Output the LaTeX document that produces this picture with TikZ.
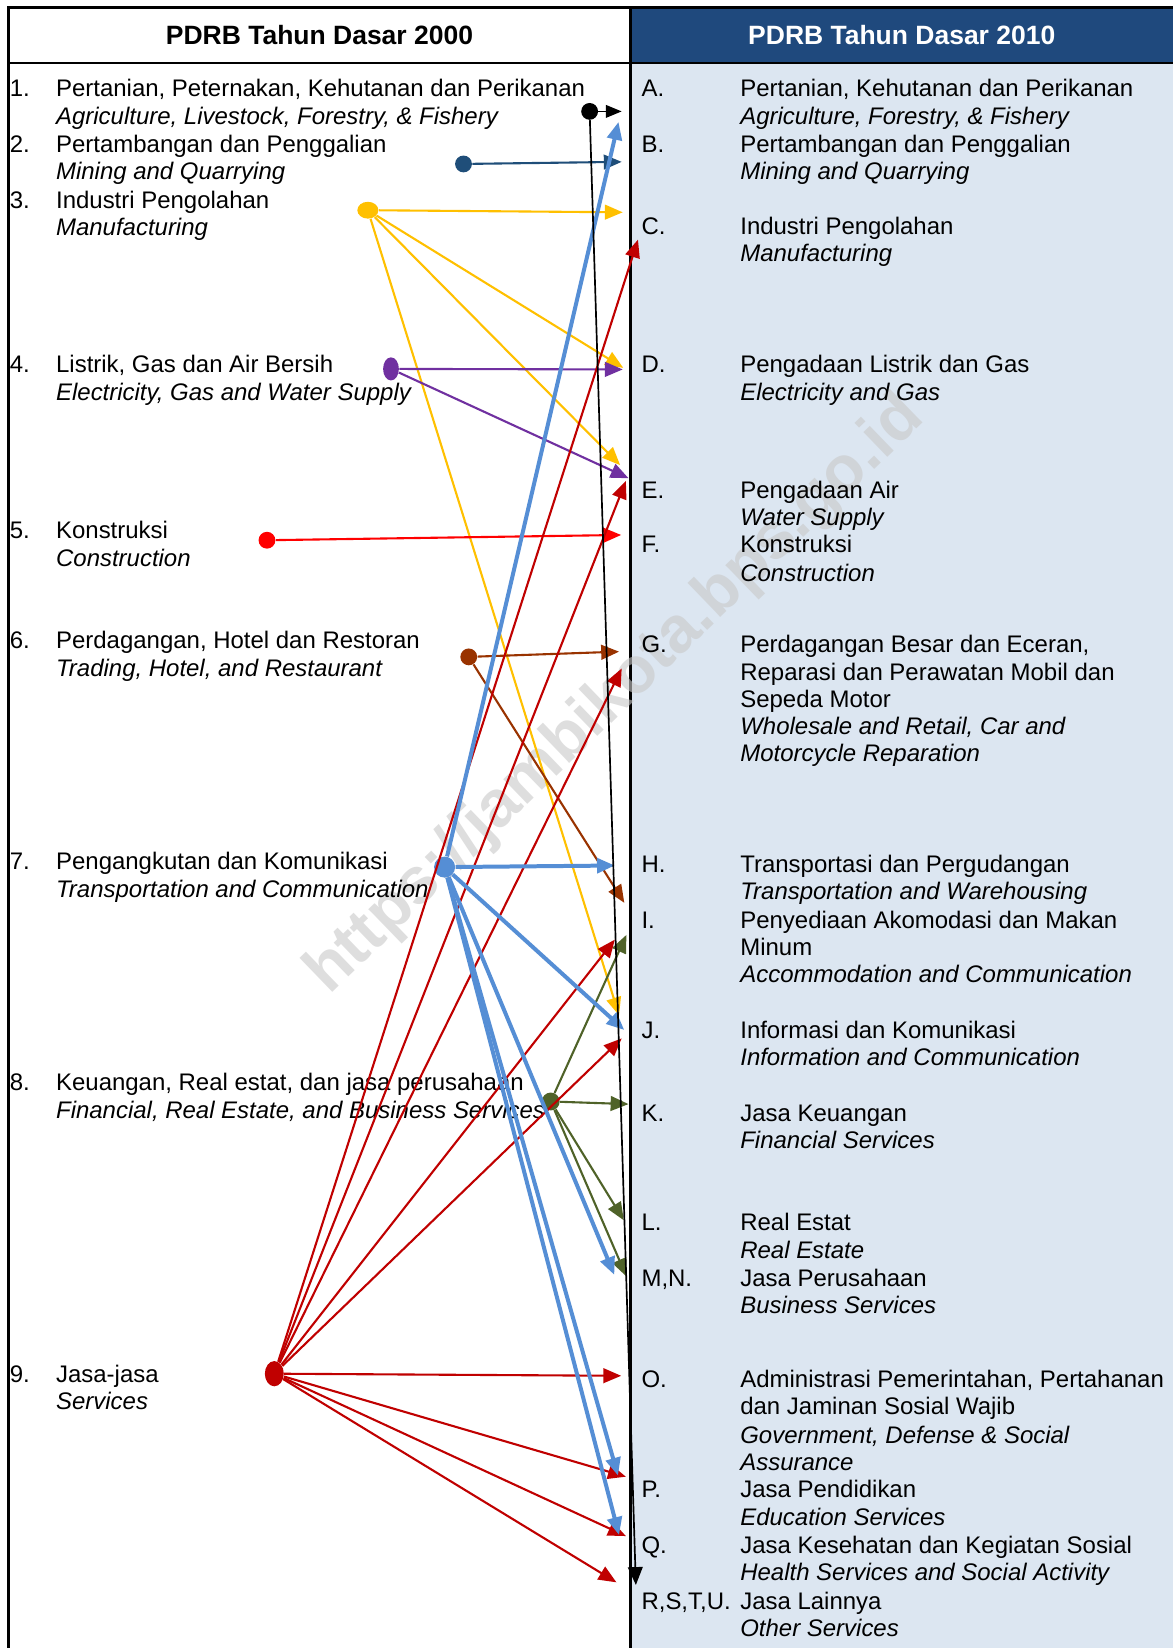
\documentclass[tikz,border=0pt]{standalone}
\usepackage{fontspec}
\setmainfont{Liberation Sans}
\usetikzlibrary{arrows.meta,shapes.geometric}
\definecolor{hdrblue}{RGB}{31,73,125}
\definecolor{bodyblue}{RGB}{220,230,241}
\definecolor{cdblue}{RGB}{31,78,121}
\definecolor{cyellow}{RGB}{255,192,0}
\definecolor{cpurple}{RGB}{112,48,160}
\definecolor{cred}{RGB}{255,0,0}
\definecolor{cbrown}{RGB}{153,51,0}
\definecolor{clblue}{RGB}{85,142,213}
\definecolor{colive}{RGB}{79,98,40}
\definecolor{cdred}{RGB}{192,0,0}
\definecolor{wmgray}{RGB}{200,200,200}
\begin{document}
\begin{tikzpicture}[x=0.5pt,y=-0.5pt,
  txt/.style={anchor=base west,inner sep=0pt,font=\fontsize{11.4}{13.15}\selectfont},
  itx/.style={anchor=base west,inner sep=0pt,font=\fontsize{11.4}{13.15}\selectfont\itshape},
  hdr/.style={inner sep=0pt,font=\fontsize{12.6}{15}\selectfont\bfseries},
  dot/.style={ellipse,fill=#1,draw=none,inner sep=0pt},
  con/.style={draw=#1,line width=1pt,-{Triangle[length=8.5pt,width=7pt]}},
  bcon/.style={draw=#1,line width=1.9pt,-{Triangle[length=8.5pt,width=7pt]}},
  frame/.style={line width=1.2pt,draw=black}
]
\useasboundingbox (0,0) rectangle (1116,1568);
\fill[white] (0,0) rectangle (1116,1568);
\fill[bodyblue] (600,60) rectangle (1116,1568);
\fill[hdrblue] (600,7) rectangle (1116,60);
\draw[frame] (8,1568) -- (8,7) -- (1116,7);
\draw[frame] (8,60) -- (1116,60);
\draw[frame] (600,7) -- (600,1568);

% watermark
\node[rotate=44,text=wmgray,opacity=0.6,inner sep=0pt,font=\fontsize{31}{31}\selectfont\bfseries] (wm) at (586,662) {https://jambikota.bps.go.id};

% headers
\node[hdr] (h1) at (304,33) {PDRB Tahun Dasar 2000};
\node[hdr,text=white] (h2) at (858,33) {PDRB Tahun Dasar 2010};

% left column
\node[txt] (n1) at (9,92) {1.};
\node[txt] (l1a) at (53,92) {Pertanian, Peternakan, Kehutanan dan Perikanan};
\node[itx] (l1b) at (53,118) {Agriculture, Livestock, Forestry, \& Fishery};
\node[txt] (n2) at (9,145) {2.};
\node[txt] (l2a) at (53,145) {Pertambangan dan Penggalian};
\node[itx] (l2b) at (53,171) {Mining and Quarrying};
\node[txt] (n3) at (9,198) {3.};
\node[txt] (l3a) at (53,198) {Industri Pengolahan};
\node[itx] (l3b) at (53,224) {Manufacturing};
\node[txt] (n4) at (9,354) {4.};
\node[txt] (l4a) at (53,354) {Listrik, Gas dan Air Bersih};
\node[itx] (l4b) at (53,381) {Electricity, Gas and Water Supply};
\node[txt] (n5) at (9,512) {5.};
\node[txt] (l5a) at (53,512) {Konstruksi};
\node[itx] (l5b) at (53,539) {Construction};
\node[txt] (n6) at (9,617) {6.};
\node[txt] (l6a) at (53,617) {Perdagangan, Hotel dan Restoran};
\node[itx] (l6b) at (53,644) {Trading, Hotel, and Restaurant};
\node[txt] (n7) at (9,827) {7.};
\node[txt] (l7a) at (53,827) {Pengangkutan dan Komunikasi};
\node[itx] (l7b) at (53,854) {Transportation and Communication};
\node[txt] (n8) at (9,1038) {8.};
\node[txt] (l8a) at (53,1038) {Keuangan, Real estat, dan jasa perusahaan};
\node[itx] (l8b) at (53,1064) {Financial, Real Estate, and Business Services};
\node[txt] (n9) at (9,1315) {9.};
\node[txt] (l9a) at (53,1315) {Jasa-jasa};
\node[itx] (l9b) at (53,1341) {Services};

% right column
\node[txt] (rA) at (610,92) {A.};
\node[txt] (rAa) at (704,92) {Pertanian, Kehutanan dan Perikanan};
\node[itx] (rAb) at (704,118) {Agriculture, Forestry, \& Fishery};
\node[txt] (rB) at (610,145) {B.};
\node[txt] (rBa) at (704,145) {Pertambangan dan Penggalian};
\node[itx] (rBb) at (704,171) {Mining and Quarrying};
\node[txt] (rC) at (610,223) {C.};
\node[txt] (rCa) at (704,223) {Industri Pengolahan};
\node[itx] (rCb) at (704,249) {Manufacturing};
\node[txt] (rD) at (610,354) {D.};
\node[txt] (rDa) at (704,354) {Pengadaan Listrik dan Gas};
\node[itx] (rDb) at (704,381) {Electricity and Gas};
\node[txt] (rE) at (610,474) {E.};
\node[txt] (rEa) at (704,474) {Pengadaan Air};
\node[itx] (rEb) at (704,500) {Water Supply};
\node[txt] (rF) at (610,526) {F.};
\node[txt] (rFa) at (704,526) {Konstruksi};
\node[itx] (rFb) at (704,553) {Construction};
\node[txt] (rG) at (610,621) {G.};
\node[txt] (rGa) at (704,621) {Perdagangan Besar dan Eceran,};
\node[txt] (rGb) at (704,647) {Reparasi dan Perawatan Mobil dan};
\node[txt] (rGc) at (704,673) {Sepeda Motor};
\node[itx] (rGd) at (704,699) {Wholesale and Retail, Car and};
\node[itx] (rGe) at (704,725) {Motorcycle Reparation};
\node[txt] (rH) at (610,830) {H.};
\node[txt] (rHa) at (704,830) {Transportasi dan Pergudangan};
\node[itx] (rHb) at (704,856) {Transportation and Warehousing};
\node[txt] (rI) at (610,883) {I.};
\node[txt] (rIa) at (704,883) {Penyediaan Akomodasi dan Makan};
\node[txt] (rIb) at (704,909) {Minum};
\node[itx] (rIc) at (704,935) {Accommodation and Communication};
\node[txt] (rJ) at (610,988) {J.};
\node[txt] (rJa) at (704,988) {Informasi dan Komunikasi};
\node[itx] (rJb) at (704,1014) {Information and Communication};
\node[txt] (rK) at (610,1067) {K.};
\node[txt] (rKa) at (704,1067) {Jasa Keuangan};
\node[itx] (rKb) at (704,1093) {Financial Services};
\node[txt] (rL) at (610,1171) {L.};
\node[txt] (rLa) at (704,1171) {Real Estat};
\node[itx] (rLb) at (704,1197) {Real Estate};
\node[txt] (rM) at (610,1224) {M,N.};
\node[txt] (rMa) at (704,1224) {Jasa Perusahaan};
\node[itx] (rMb) at (704,1250) {Business Services};
\node[txt] (rO) at (610,1320) {O.};
\node[txt] (rOa) at (704,1320) {Administrasi Pemerintahan, Pertahanan};
\node[txt] (rOb) at (704,1346) {dan Jaminan Sosial Wajib};
\node[itx] (rOc) at (704,1373) {Government, Defense \& Social};
\node[itx] (rOd) at (704,1399) {Assurance};
\node[txt] (rP) at (610,1425) {P.};
\node[txt] (rPa) at (704,1425) {Jasa Pendidikan};
\node[itx] (rPb) at (704,1451) {Education Services};
\node[txt] (rQ) at (610,1478) {Q.};
\node[txt] (rQa) at (704,1478) {Jasa Kesehatan dan Kegiatan Sosial};
\node[itx] (rQb) at (704,1504) {Health Services and Social Activity};
\node[txt] (rR) at (610,1531) {R,S,T,U.};
\node[txt] (rRa) at (704,1531) {Jasa Lainnya};
\node[itx] (rRb) at (704,1557) {Other Services};

% source dots
\node[dot=black,minimum width=8pt,minimum height=8pt] (s1) at (561,106) {};
\node[dot=cdblue,minimum width=8pt,minimum height=8pt] (s2) at (441,156) {};
\node[dot=cyellow,minimum width=10pt,minimum height=8pt] (s3) at (350,200) {};
\node[dot=cpurple,minimum width=7.5pt,minimum height=11pt] (s4) at (372,351) {};
\node[dot=cred,minimum width=8pt,minimum height=8pt] (s5) at (254,514) {};
\node[dot=cbrown,minimum width=8pt,minimum height=8pt] (s6) at (446,625) {};
\node[dot=clblue,minimum width=10pt,minimum height=10pt] (s7) at (423,825) {};
\node[dot=colive,minimum width=8.5pt,minimum height=8.5pt] (s8) at (524,1048) {};
\node[dot=cdred,minimum width=9pt,minimum height=12pt] (s9) at (261,1307) {};

% target points
\coordinate (A1) at (591.5,106);
\coordinate (R1) at (605,1508);
\coordinate (B2) at (591.5,154);
\coordinate (C3) at (592.5,202);
\coordinate (D3) at (593,350);
\coordinate (E3) at (590,442.5);
\coordinate (J3) at (589,966);
\coordinate (D4) at (592.5,351.5);
\coordinate (E4) at (598,455);
\coordinate (F5) at (591,509);
\coordinate (G6) at (589,620);
\coordinate (I6) at (594,859);
\coordinate (A7) at (588.5,116);
\coordinate (H7) at (585,823.5);
\coordinate (J7) at (594,980);
\coordinate (M7) at (584.5,1213);
\coordinate (P7) at (588,1404);
\coordinate (Q7) at (589,1460.5);
\coordinate (I8) at (596,889.5);
\coordinate (K8) at (598,1050.5);
\coordinate (L8) at (593.5,1161);
\coordinate (M8) at (596,1214.5);
\coordinate (C9) at (607,228);
\coordinate (E9) at (595.5,457.5);
\coordinate (G9) at (591.5,636);
\coordinate (I9) at (585,894);
\coordinate (J9) at (591.5,988);
\coordinate (O9) at (591,1309);
\coordinate (P9) at (595.5,1405);
\coordinate (Q9) at (595.5,1461.5);
\coordinate (R9) at (586.5,1505.5);

% connectors
\draw[con=cyellow] (s3) -- (C3);
\draw[con=cyellow] (s3) -- (D3);
\draw[con=cyellow] (s3) -- (E3);
\draw[con=cyellow] (s3) -- (J3);
\draw[con=cdblue] (s2) -- (B2);
\draw[con=cpurple] (s4) -- (D4);
\draw[con=cpurple] (s4) -- (E4);
\draw[con=cred] (s5) -- (F5);
\draw[con=cbrown] (s6) -- (G6);
\draw[con=cbrown] (s6) -- (I6);
\draw[con=colive] (s8) -- (I8);
\draw[con=colive] (s8) -- (K8);
\draw[con=colive] (s8) -- (L8);
\draw[con=colive] (s8) -- (M8);
\draw[con=cdred] (s9) -- (C9);
\draw[con=cdred] (s9) -- (E9);
\draw[con=cdred] (s9) -- (G9);
\draw[con=cdred] (s9) -- (I9);
\draw[con=cdred] (s9) -- (J9);
\draw[con=cdred] (s9) -- (O9);
\draw[con=cdred] (s9) -- (P9);
\draw[con=cdred] (s9) -- (Q9);
\draw[con=cdred] (s9) -- (R9);
\draw[bcon=clblue] (s7) -- (A7);
\draw[bcon=clblue] (s7) -- (H7);
\draw[bcon=clblue] (s7) -- (J7);
\draw[bcon=clblue] (s7) -- (M7);
\draw[bcon=clblue] (s7) -- (P7);
\draw[bcon=clblue] (s7) -- (Q7);
\draw[black,line width=0.8pt,-{Triangle[length=7.5pt,width=6pt]}] (s1) -- (A1);
\draw[black,line width=0.8pt,-{Triangle[length=8.5pt,width=7pt]}] (s1) -- (R1);
\end{tikzpicture}
\end{document}
